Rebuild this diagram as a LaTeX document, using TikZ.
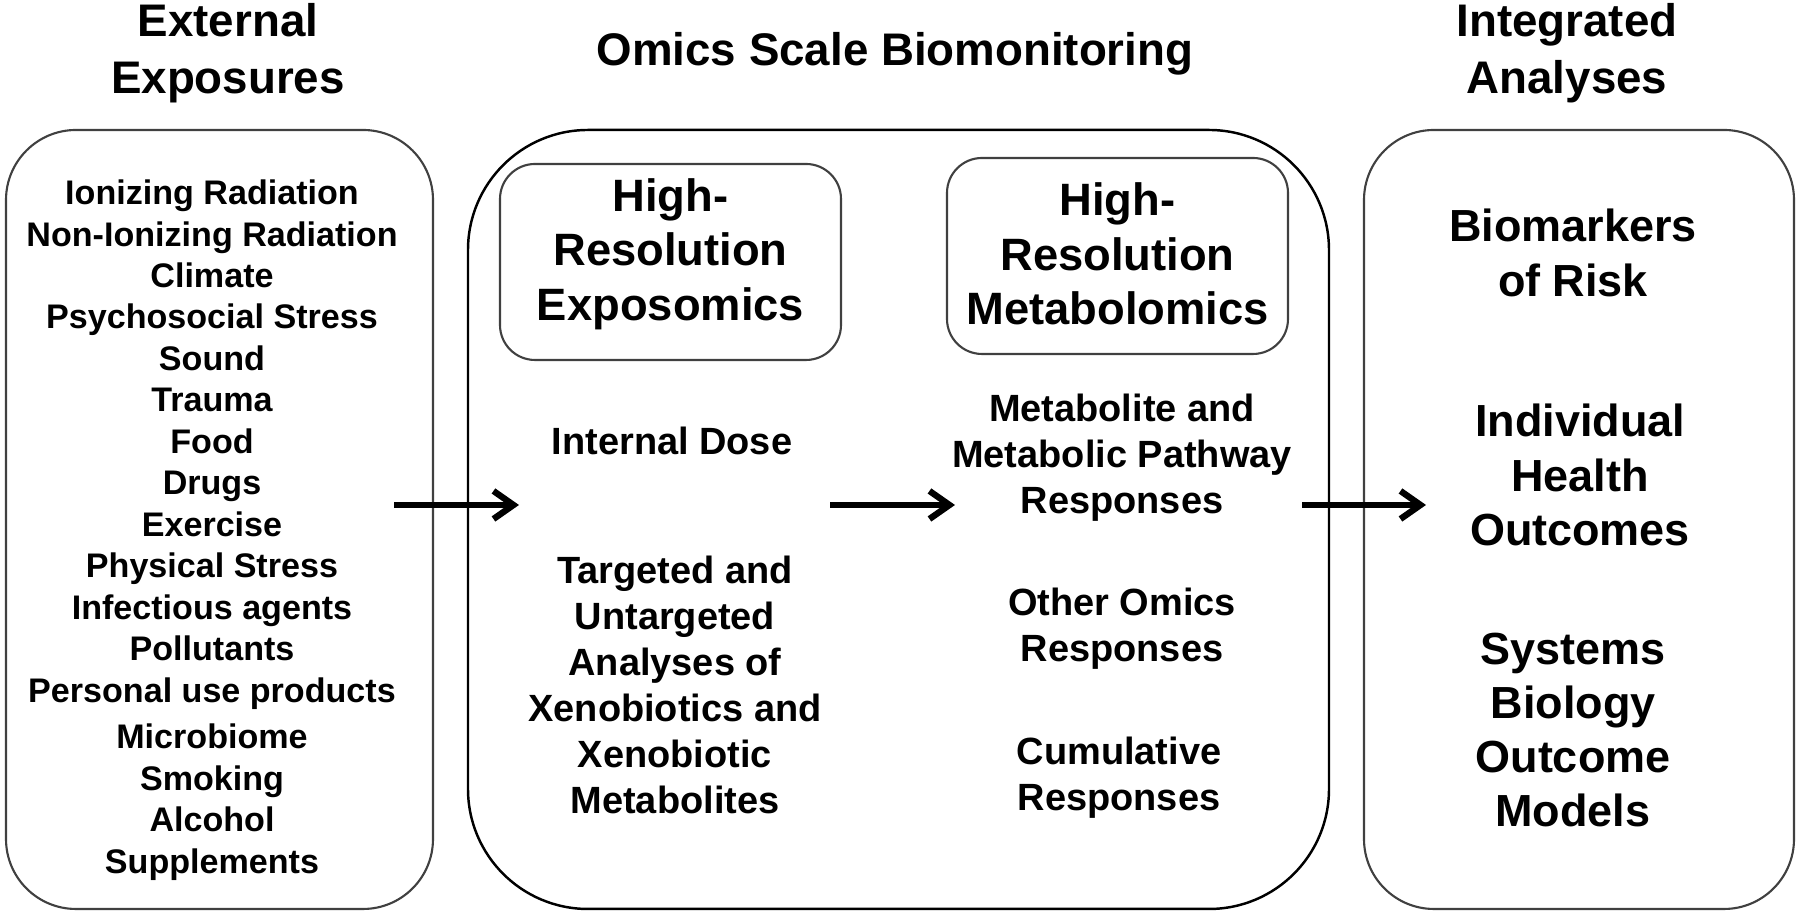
\documentclass[tikz,border=0pt]{standalone}
\usepackage{fontspec}
\setmainfont{Liberation Sans}
\usetikzlibrary{arrows.meta}

\tikzset
  {
    boxLine/.style=    {draw=black!75, line width=0.6pt},
    flowArrow/.style=  {line width=1.8pt, -{Straight Barb[length=2mm,width=2.8mm]}},
    titleText/.style=  {font=\fontsize{13}{16.3}\selectfont\bfseries, align=center},
    listText/.style=   {font=\fontsize{9.7}{11.8}\selectfont\bfseries, align=center},
    omicsHead/.style=  {font=\fontsize{12.9}{15.5}\selectfont\bfseries, align=center},
    omicsText/.style=  {font=\fontsize{10.8}{13.1}\selectfont\bfseries, align=center},
    outcomeText/.style={font=\fontsize{12.8}{15.4}\selectfont\bfseries, align=center}
  }

\begin{document}
\begin{tikzpicture}

\useasboundingbox (0,0) rectangle (18,9.16);

% titles
\node[titleText] (extTitle) at (2.28,8.63) {External\\Exposures};
\node[titleText] (omicsTitle) at (8.95,8.62) {Omics Scale Biomonitoring};
\node[titleText] (intTitle) at (15.67,8.63) {Integrated\\Analyses};

% boxes
\draw[boxLine, rounded corners=0.7cm] (0.06,0.07) rectangle (4.33,7.86);
\draw[draw=black, line width=0.7pt, rounded corners=1.2cm] (4.68,0.07) rectangle (13.29,7.86);
\draw[boxLine, rounded corners=0.7cm] (13.64,0.07) rectangle (17.94,7.86);

\draw[boxLine, rounded corners=0.35cm] (5.00,5.56) rectangle (8.41,7.52);
\draw[boxLine, rounded corners=0.35cm] (9.47,5.62) rectangle (12.88,7.58);

% external exposures
\node[listText] (expList) at (2.12,3.86)
{Ionizing Radiation\\Non-Ionizing Radiation\\Climate\\Psychosocial Stress\\Sound\\Trauma\\Food\\Drugs\\Exercise\\Physical Stress\\Infectious agents\\Pollutants\\Personal use products\\[1.4pt]Microbiome\\Smoking\\Alcohol\\Supplements};

% omics
\node[omicsHead] (exposHead) at (6.705,6.62) {High-\\Resolution\\Exposomics};
\node[omicsHead] (metabHead) at (11.175,6.62) {High-\\Resolution\\Metabolomics};

\node[omicsText] (intDose) at (6.72,4.75) {Internal Dose};
\node[omicsText] (xenoText) at (6.75,2.31)
{Targeted and\\Untargeted\\Analyses of\\Xenobiotics and\\Xenobiotic\\Metabolites};

\node[omicsText] (pathText) at (11.22,4.58) {Metabolite and\\Metabolic Pathway\\Responses};
\node[omicsText] (otherText) at (11.22,2.87) {Other Omics\\Responses};
\node[omicsText] (cumText) at (11.19,1.38) {Cumulative\\Responses};

% outcomes
\node[outcomeText] (riskText) at (15.73,6.63) {Biomarkers\\of Risk};
\node[outcomeText] (healthText) at (15.80,4.41) {Individual\\Health\\Outcomes};
\node[outcomeText] (modelText) at (15.73,1.86) {Systems\\Biology\\Outcome\\Models};

% arrows
\coordinate (arrA) at (3.94,4.11);
\coordinate (arrB) at (5.19,4.11);
\coordinate (arrC) at (8.30,4.11);
\coordinate (arrD) at (9.55,4.11);
\coordinate (arrE) at (13.02,4.11);
\coordinate (arrF) at (14.26,4.11);

\draw[flowArrow] (arrA) -- (arrB);
\draw[flowArrow] (arrC) -- (arrD);
\draw[flowArrow] (arrE) -- (arrF);

\end{tikzpicture}
\end{document}
